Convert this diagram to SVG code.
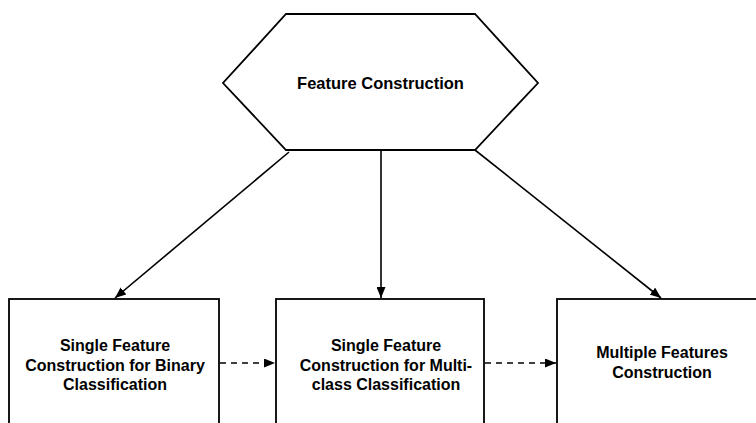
<svg xmlns="http://www.w3.org/2000/svg" width="756" height="423" viewBox="0 0 756 423">
<style>
.shape{fill:#fff;stroke:#000;stroke-width:1.8}
.lbl{font-family:"Liberation Sans",Arial,sans-serif;font-weight:bold;font-size:16px;fill:#000;text-anchor:middle}
.edge{stroke:#000;stroke-width:1.6;fill:none}
.dash{stroke-dasharray:6 5}
</style>
<defs>
<marker id="ah" viewBox="0 0 11 9" refX="11" refY="4.5" markerWidth="11" markerHeight="9" markerUnits="userSpaceOnUse" orient="auto">
<path d="M0,0 L11,4.5 L0,9 Z" fill="#000"/>
</marker>
</defs>
<rect width="756" height="423" fill="#fff"/>
<g id="feature-construction">
<polygon class="shape" points="286,14 475,14 538,83 475,150 286,150 223,83"/>
<text class="lbl" x="380.5" y="89" style="font-size:16.5px">Feature Construction</text>
</g>
<g id="single-binary">
<rect class="shape" x="9" y="299" width="210" height="140"/>
<text class="lbl" x="115" y="350.5">Single Feature</text>
<text class="lbl" x="115" y="370.5">Construction for Binary</text>
<text class="lbl" x="115" y="390">Classification</text>
</g>
<g id="single-multiclass">
<rect class="shape" x="276" y="299" width="208" height="140"/>
<text class="lbl" x="386" y="350.5">Single Feature</text>
<text class="lbl" x="386" y="370.5">Construction for Multi-</text>
<text class="lbl" x="386" y="390">class Classification</text>
</g>
<g id="multiple-features">
<rect class="shape" x="557" y="299" width="210" height="140"/>
<text class="lbl" x="662" y="358">Multiple Features</text>
<text class="lbl" x="662" y="378">Construction</text>
</g>
<g id="connectors">
<line class="edge" x1="289" y1="152" x2="115" y2="298" marker-end="url(#ah)"/>
<line class="edge" x1="381" y1="150" x2="381" y2="298" marker-end="url(#ah)"/>
<line class="edge" x1="475" y1="150" x2="661" y2="298" marker-end="url(#ah)"/>
<line class="edge dash" x1="220" y1="363" x2="275" y2="363" marker-end="url(#ah)"/>
<line class="edge dash" x1="485" y1="363" x2="556" y2="363" marker-end="url(#ah)"/>
</g>
</svg>
